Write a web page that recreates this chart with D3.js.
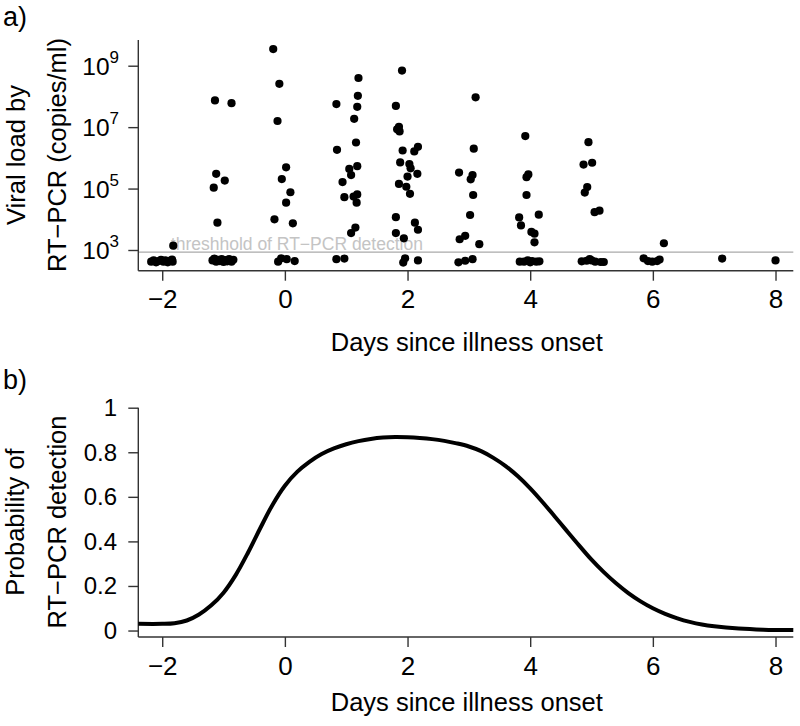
<!DOCTYPE html>
<html>
<head>
<meta charset="utf-8">
<script src="https://cdn.jsdelivr.net/npm/d3@7"></script>
<style>
  body { margin: 0; background: #fff; }
  svg { display: block; font-family: "Liberation Sans", Arial, Helvetica, sans-serif; }
</style>
</head>
<body>
<svg width="800" height="726"></svg>
<script>
const WIDTH = 800;
const HEIGHT = 726;

// panel a) : day since onset (jittered, as plotted) and log10 viral load
const loadDays = [
  -2.18, -2.14, -2.10, -2.06, -2.02, -1.98, -1.95, -1.91, -1.88, -1.84, -1.83, -1.82,
  -1.18, -1.15, -1.12, -1.09, -1.06, -1.03, -1.00, -0.97, -0.94, -0.91, -0.87, -0.84,
  -1.14, -0.87, -1.12, -0.98, -1.16, -1.10,
  -0.19, -0.09, -0.12, 0.02, -0.05, 0.09, 0.02, -0.17, 0.13, -0.11, -0.06, 0.03, 0.16,
  0.84, 1.20, 1.19, 1.18, 1.13, 1.16, 0.85, 1.18, 1.05, 1.08, 0.94, 0.97, 1.12, 1.18, 1.17, 1.15, 1.08, 0.84, 0.97,
  1.91, 1.81, 1.83, 1.86, 1.87, 1.92, 2.11, 2.17, 1.88, 2.03, 2.05, 2.00, 2.16, 1.86, 1.98, 2.04,
  1.81, 2.12, 2.17, 1.81, 1.94, 1.93, 1.96, 2.17,
  3.11, 3.08, 2.84, 3.06, 3.03, 3.07, 3.02, 2.94, 2.85, 3.17, 2.83, 2.94, 3.06,
  3.92, 3.97, 3.94, 3.94, 3.82, 4.14, 3.85, 4.02, 4.07, 4.07, 3.83, 3.90, 3.96, 4.00, 4.03, 4.10, 4.15,
  4.95, 4.87, 5.01, 4.93, 4.89, 5.05, 5.13, 4.84, 4.92, 4.97, 5.00, 5.06, 5.15, 5.20,
  5.85, 5.92, 5.99, 6.07, 6.11, 6.18, 7.13, 8.00
];
const logLoad = [
  2.62, 2.66, 2.60, 2.64, 2.68, 2.62, 2.66, 2.60, 2.65, 2.69, 2.62, 3.14,
  2.66, 2.72, 2.62, 2.68, 2.64, 2.70, 2.61, 2.67, 2.63, 2.70, 2.62, 2.68,
  7.87, 7.78, 5.48, 5.26, 5.03, 3.89,
  9.54, 8.41, 7.20, 5.69, 5.31, 4.88, 4.54, 4.00, 3.87, 2.62, 2.73, 2.70, 2.64,
  7.75, 8.60, 8.02, 7.66, 7.27, 6.50, 6.26, 5.73, 5.64, 5.44, 5.21, 4.72, 4.74, 4.81, 4.54, 3.73, 3.55, 2.70, 2.72,
  8.84, 7.69, 6.93, 7.01, 6.86, 6.24, 6.21, 6.36, 5.85, 5.80, 5.66, 5.39, 5.48, 5.15, 5.06, 4.83,
  4.07, 3.89, 3.66, 3.55, 3.38, 2.59, 2.73, 2.66,
  7.97, 6.30, 5.52, 5.44, 5.30, 4.79, 4.14, 3.46, 3.35, 3.19, 2.60, 2.65, 2.70,
  6.71, 5.46, 5.37, 4.79, 4.06, 4.15, 3.80, 3.59, 3.53, 3.25, 2.62, 2.62, 2.66, 2.60, 2.64, 2.62, 2.63,
  6.51, 5.78, 5.84, 5.05, 4.87, 4.23, 4.28, 2.63, 2.65, 2.70, 2.66, 2.62, 2.61, 2.61,
  2.73, 2.64, 2.62, 2.64, 2.69, 3.22, 2.72, 2.66
];
const detectionLimit = 850;
const loadTicks = [1e3, 1e5, 1e7, 1e9];

// panel b) : fitted probability of detection
const probDays = [
  -2.39, -2.0, -1.8, -1.6, -1.4, -1.2, -1.0, -0.8, -0.6, -0.4, -0.2, 0.0,
  0.2, 0.4, 0.6, 0.8, 1.0, 1.2, 1.4, 1.6, 1.8, 2.0, 2.2, 2.4, 2.6, 2.8, 3.0,
  3.2, 3.4, 3.6, 3.8, 4.0, 4.2, 4.4, 4.6, 4.8, 5.0, 5.2, 5.4, 5.6, 5.8, 6.0,
  6.2, 6.4, 6.6, 6.8, 7.0, 7.4, 7.8, 8.29
];
const probDetect = [
  0.030, 0.030, 0.033, 0.045, 0.072, 0.113, 0.170, 0.250, 0.350, 0.460, 0.565, 0.650,
  0.712, 0.757, 0.792, 0.817, 0.836, 0.850, 0.860, 0.866, 0.868, 0.867, 0.864, 0.859, 0.851, 0.840, 0.826,
  0.805, 0.775, 0.738, 0.692, 0.638, 0.577, 0.512, 0.446, 0.381, 0.318, 0.262, 0.212, 0.168, 0.131, 0.100,
  0.075, 0.055, 0.039, 0.027, 0.019, 0.009, 0.004, 0.002
];
const probTicks = [0, 0.2, 0.4, 0.6, 0.8, 1];
const dayTicks = [-2, 0, 2, 4, 6, 8];

const points = loadDays.map((d, i) => ({ day: d, load: Math.pow(10, logLoad[i]) }));
const curve = probDays.map((d, i) => ({ day: d, p: probDetect[i] }));

let svg = d3.select("svg");

const AXIS_COL = "#333";
const fmtMinus = d => d < 0 ? "\u2212" + Math.abs(d) : String(d);

let x = d3.scaleLinear().domain([-2.39, 8.29]).range([138.3, 793.3]);
let yTop = d3.scaleLog().domain([Math.pow(10, 2.326), Math.pow(10, 9.837)]).range([270.7, 40]);
let yBot = d3.scaleLinear().domain([-0.029, 1]).range([637, 407.7]);

const drawXAxis = (yPos, labelY, titleY) => {
  let g = svg.append("g").attr("transform", "translate(0," + yPos + ")");
  g.call(d3.axisBottom(x).tickValues(dayTicks).tickSize(10).tickPadding(0).tickFormat(fmtMinus));
  g.select(".domain").attr("d", "M" + x.range()[0] + ",0H" + x.range()[1]);
  g.selectAll("line, path").attr("stroke", AXIS_COL).attr("stroke-width", 1.4);
  g.selectAll("text")
   .attr("fill", "#000")
   .attr("font-family", null)
   .attr("font-size", 26)
   .attr("dy", null)
   .attr("y", labelY - yPos);
  svg.append("text")
     .attr("x", (138.3 + 793.3) / 2 + 1)
     .attr("y", titleY)
     .attr("text-anchor", "middle")
     .attr("font-size", 25.5)
     .text("Days since illness onset");
};

// ---- panel a)
svg.append("text").attr("x", 3).attr("y", 26).attr("font-size", 27).text("a)");

svg.append("line")
   .attr("x1", x.range()[0]).attr("x2", x.range()[1])
   .attr("y1", yTop(detectionLimit)).attr("y2", yTop(detectionLimit))
   .attr("stroke", "#aaa").attr("stroke-width", 1.3);

svg.append("text")
   .attr("x", x(-1.86))
   .attr("y", yTop(detectionLimit) - 2.5)
   .attr("font-size", 17.5)
   .attr("fill", "#c4c4c4")
   .text("threshhold of RT\u2212PCR detection");

let yA = svg.append("g").attr("transform", "translate(138.3,0)");
yA.call(d3.axisLeft(yTop).tickValues(loadTicks).tickSize(10).tickPadding(10).tickFormat(""));
yA.select(".domain").attr("d", "M0," + yTop.range()[0] + "V" + yTop.range()[1]);
yA.selectAll("line, path").attr("stroke", AXIS_COL).attr("stroke-width", 1.4);

let tickLab = svg.append("g").selectAll("text")
   .data(loadTicks).enter().append("text")
   .attr("x", 119)
   .attr("y", d => yTop(d) + 9)
   .attr("text-anchor", "end")
   .attr("font-size", 24.5);
tickLab.append("tspan").text("10");
tickLab.append("tspan")
   .attr("font-size", 17)
   .attr("dy", -12)
   .text(d => Math.round(Math.log10(d)));

svg.append("g").selectAll("circle")
   .data(points).enter().append("circle")
   .attr("cx", d => x(d.day))
   .attr("cy", d => yTop(d.load))
   .attr("r", 4.1)
   .attr("fill", "#000");

drawXAxis(270.7, 308, 351);

const yTitle = (lines, cy) => {
  lines.forEach(l => {
    svg.append("text")
       .attr("transform", "translate(" + l.x + "," + cy + ") rotate(-90)")
       .attr("text-anchor", "middle")
       .attr("font-size", 25.5)
       .text(l.t);
  });
};
yTitle([{ t: "Viral load by", x: 25 }, { t: "RT\u2212PCR (copies/ml)", x: 66 }], 155);

// ---- panel b)
svg.append("text").attr("x", 3).attr("y", 389).attr("font-size", 27).text("b)");

let yB = svg.append("g").attr("transform", "translate(138.3,0)");
yB.call(d3.axisLeft(yBot).tickValues(probTicks).tickSize(10).tickPadding(0).tickFormat(""));
yB.select(".domain").attr("d", "M0," + yBot(1) + "V" + yBot.range()[0]);
yB.selectAll("line, path").attr("stroke", AXIS_COL).attr("stroke-width", 1.4);

svg.append("g").selectAll("text")
   .data(probTicks).enter().append("text")
   .attr("x", 117)
   .attr("y", d => yBot(d) + 8.5)
   .attr("text-anchor", "end")
   .attr("font-size", 24)
   .text(d => d);

let line = d3.line()
             .x(d => x(d.day))
             .y(d => yBot(d.p))
             .curve(d3.curveCatmullRom.alpha(0.5));

svg.append("path")
   .datum(curve)
   .attr("d", line)
   .attr("fill", "none")
   .attr("stroke", "#000")
   .attr("stroke-width", 4);

drawXAxis(637, 675, 711);

yTitle([{ t: "Probability of", x: 24 }, { t: "RT\u2212PCR detection", x: 66 }], 522);
</script>
</body>
</html>
